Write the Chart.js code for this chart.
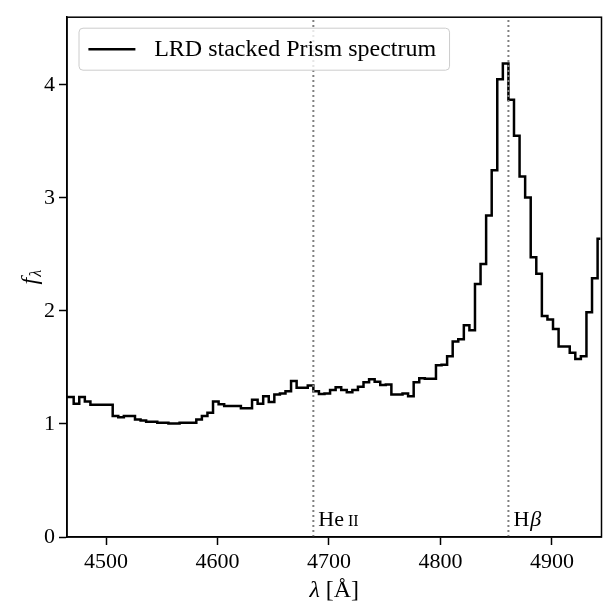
<!DOCTYPE html>
<html>
<head>
<meta charset="utf-8">
<script src="https://cdn.jsdelivr.net/npm/chart.js@4"></script>
<style>
  html, body { margin: 0; padding: 0; background: #fff; }
  #wrap { width: 603px; height: 604px; }
</style>
</head>
<body>
<div id="wrap"><canvas id="specChart" width="603" height="604"></canvas></div>
<script>
// bin centres (Angstrom) of the stacked spectrum
const wavelength = [
    4463.5, 4468.5, 4473.5, 4478.5, 4483.5, 4488.5, 4493.5, 4498.5, 4503.5, 4508.5,
    4513.5, 4518.5, 4523.5, 4528.5, 4533.5, 4538.5, 4543.5, 4548.5, 4553.5, 4558.5,
    4563.5, 4568.5, 4573.5, 4578.5, 4583.5, 4588.5, 4593.5, 4598.5, 4603.5, 4608.5,
    4613.5, 4618.5, 4623.5, 4628.5, 4633.5, 4638.5, 4643.5, 4648.5, 4653.5, 4658.5,
    4663.5, 4668.5, 4673.5, 4678.5, 4683.5, 4688.5, 4693.5, 4698.5, 4703.5, 4708.5,
    4713.5, 4718.5, 4723.5, 4728.5, 4733.5, 4738.5, 4743.5, 4748.5, 4753.5, 4758.5,
    4763.5, 4768.5, 4773.5, 4778.5, 4783.5, 4788.5, 4793.5, 4798.5, 4803.5, 4808.5,
    4813.5, 4818.5, 4823.5, 4828.5, 4833.5, 4838.5, 4843.5, 4848.5, 4853.5, 4858.5,
    4863.5, 4868.5, 4873.5, 4878.5, 4883.5, 4888.5, 4893.5, 4898.5, 4903.5, 4908.5,
    4913.5, 4918.5, 4923.5, 4928.5, 4933.5, 4938.5, 4943.5
];

// f_lambda per bin
const flux = [
    1.24, 1.24, 1.18, 1.24, 1.20, 1.17, 1.17, 1.17, 1.17, 1.07,
    1.06, 1.07, 1.07, 1.04, 1.03, 1.02, 1.02, 1.01, 1.01, 1.005,
    1.005, 1.01, 1.01, 1.01, 1.04, 1.07, 1.10, 1.20, 1.175, 1.16,
    1.16, 1.16, 1.14, 1.14, 1.215, 1.18, 1.245, 1.195, 1.26, 1.27,
    1.29, 1.38, 1.32, 1.32, 1.34, 1.29, 1.265, 1.27, 1.30, 1.325,
    1.30, 1.28, 1.30, 1.33, 1.37, 1.395, 1.375, 1.345, 1.35, 1.26,
    1.26, 1.27, 1.245, 1.37, 1.405, 1.40, 1.40, 1.52, 1.525, 1.60,
    1.73, 1.75, 1.875, 1.83, 2.24, 2.415, 2.845, 3.245, 4.05, 4.19,
    3.87, 3.55, 3.19, 3.005, 2.475, 2.33, 1.955, 1.925, 1.84, 1.685,
    1.685, 1.63, 1.575, 1.60, 1.99, 2.29, 2.64
];

const xTicks = [4500, 4600, 4700, 4800, 4900];
const yTicks = [0, 1, 2, 3, 4];

// emission lines marked with dotted verticals
const lineNames = [['He', 'II'], ['H', 'β']];
const lineWaves = [4686, 4861];

const seriesLabel = 'LRD stacked Prism spectrum';
const SERIF = "'Liberation Serif', 'DejaVu Serif', serif";
const X_MIN = 4465, X_MAX = 4944.5, Y_MIN = 0, Y_MAX = 4.6;

// frame, legend, axis titles and line labels
const extrasPlugin = {
    id: 'extras',
    afterDraw(chart) {
        const ctx = chart.ctx;
        const area = chart.chartArea;
        const xs = chart.scales.x;
        const ys = chart.scales.y;
        ctx.save();

        // full box frame
        ctx.strokeStyle = '#000';
        ctx.lineWidth = 1.5;
        ctx.strokeRect(area.left, area.top, area.right - area.left, area.bottom - area.top);

        // line labels
        ctx.fillStyle = '#000';
        ctx.textBaseline = 'alphabetic';
        ctx.textAlign = 'left';
        const baseY = ys.getPixelForValue(0) - 11;
        // He II (small caps)
        let px = xs.getPixelForValue(lineWaves[0]) + 5;
        ctx.font = '22px ' + SERIF;
        ctx.fillText(lineNames[0][0], px, baseY);
        px += ctx.measureText(lineNames[0][0]).width + 4;
        ctx.font = '16px ' + SERIF;
        ctx.fillText(lineNames[0][1], px, baseY);
        // H beta
        px = xs.getPixelForValue(lineWaves[1]) + 5;
        ctx.font = '22px ' + SERIF;
        ctx.fillText(lineNames[1][0], px, baseY);
        px += ctx.measureText(lineNames[1][0]).width + 1;
        ctx.font = 'italic 22px ' + SERIF;
        ctx.fillText(lineNames[1][1], px, baseY);

        // x title: lambda [Å]
        ctx.font = 'italic 24px ' + SERIF;
        const lam = 'λ';
        const wLam = ctx.measureText(lam).width;
        ctx.font = '24px ' + SERIF;
        const rest = ' [Å]';
        const wRest = ctx.measureText(rest).width;
        let sx = (area.left + area.right) / 2 - (wLam + wRest) / 2;
        ctx.font = 'italic 24px ' + SERIF;
        ctx.fillText(lam, sx, 597);
        ctx.font = '24px ' + SERIF;
        ctx.fillText(rest, sx + wLam, 597);

        // y title: f_lambda
        ctx.save();
        ctx.translate(37, (area.top + area.bottom) / 2);
        ctx.rotate(-Math.PI / 2);
        ctx.font = 'italic 24px ' + SERIF;
        const wf = ctx.measureText('f').width;
        ctx.font = 'italic 16px ' + SERIF;
        const wl = ctx.measureText('λ').width;
        const start = -(wf + wl + 1) / 2;
        ctx.font = 'italic 24px ' + SERIF;
        ctx.fillText('f', start, 0);
        ctx.font = 'italic 16px ' + SERIF;
        ctx.fillText('λ', start + wf + 1, 4);
        ctx.restore();

        // legend box
        const em = 23.5;
        ctx.font = '24px ' + SERIF;
        const tw = ctx.measureText(seriesLabel).width;
        const bx = area.left + 12;
        const by = area.top + 11;
        const bw = 0.4 * em + 2 * em + 0.8 * em + tw + 0.4 * em + 4;
        const bh = 42;
        ctx.beginPath();
        ctx.roundRect(bx, by, bw, bh, 4);
        ctx.fillStyle = 'rgba(255,255,255,0.8)';
        ctx.fill();
        ctx.strokeStyle = '#cccccc';
        ctx.lineWidth = 1;
        ctx.stroke();
        const ly = by + bh / 2;
        ctx.beginPath();
        ctx.moveTo(bx + 0.4 * em, ly);
        ctx.lineTo(bx + 2.4 * em, ly);
        ctx.strokeStyle = '#000';
        ctx.lineWidth = 2.5;
        ctx.stroke();
        ctx.fillStyle = '#000';
        ctx.textBaseline = 'middle';
        ctx.fillText(seriesLabel, bx + 3.2 * em, ly + 1);

        ctx.restore();
    }
};

function makeLineData(w) {
    return [{ x: w, y: Y_MIN }, { x: w, y: Y_MAX }];
}

const ctx = document.getElementById('specChart').getContext('2d');
const specChart = new Chart(ctx, {
    type: 'line',
    data: {
        datasets: [
            {
                label: 'He II',
                data: makeLineData(lineWaves[0]),
                borderColor: '#808080',
                borderWidth: 2,
                borderDash: [2, 3],
                pointRadius: 0,
                order: 0
            },
            {
                label: 'Hbeta',
                data: makeLineData(lineWaves[1]),
                borderColor: '#808080',
                borderWidth: 2,
                borderDash: [2, 3],
                pointRadius: 0,
                order: 0
            },
            {
                label: seriesLabel,
                data: wavelength.map((w, i) => ({ x: w, y: flux[i] })),
                borderColor: '#000',
                borderWidth: 2.5,
                stepped: 'middle',
                pointRadius: 0,
                fill: false,
                order: 1
            }
        ]
    },
    options: {
        responsive: false,
        animation: false,
        devicePixelRatio: 1,
        layout: { padding: { left: 0, top: 3, right: 1.5, bottom: 0 } },
        plugins: {
            legend: { display: false },
            tooltip: { enabled: false }
        },
        scales: {
            x: {
                type: 'linear',
                min: X_MIN,
                max: X_MAX,
                afterBuildTicks: (scale) => { scale.ticks = xTicks.map(v => ({ value: v })); },
                afterFit: (scale) => { scale.height = 67; },
                grid: {
                    display: true,
                    drawOnChartArea: false,
                    drawTicks: true,
                    tickLength: 8,
                    tickWidth: 1.5,
                    color: '#000'
                },
                border: { display: true, color: '#000', width: 1.5 },
                ticks: {
                    autoSkip: false,
                    maxRotation: 0,
                    padding: 4,
                    color: '#000',
                    font: { family: SERIF, size: 22 },
                    callback: (v) => String(v)
                }
            },
            y: {
                type: 'linear',
                min: Y_MIN,
                max: Y_MAX,
                afterBuildTicks: (scale) => { scale.ticks = yTicks.map(v => ({ value: v })); },
                afterFit: (scale) => { scale.width = 67; },
                grid: {
                    display: true,
                    drawOnChartArea: false,
                    drawTicks: true,
                    tickLength: 8,
                    tickWidth: 1.5,
                    color: '#000'
                },
                border: { display: true, color: '#000', width: 1.5 },
                ticks: {
                    autoSkip: false,
                    padding: 4,
                    color: '#000',
                    font: { family: SERIF, size: 22 },
                    callback: (v) => String(v)
                }
            }
        }
    },
    plugins: [extrasPlugin]
});
</script>
</body>
</html>
